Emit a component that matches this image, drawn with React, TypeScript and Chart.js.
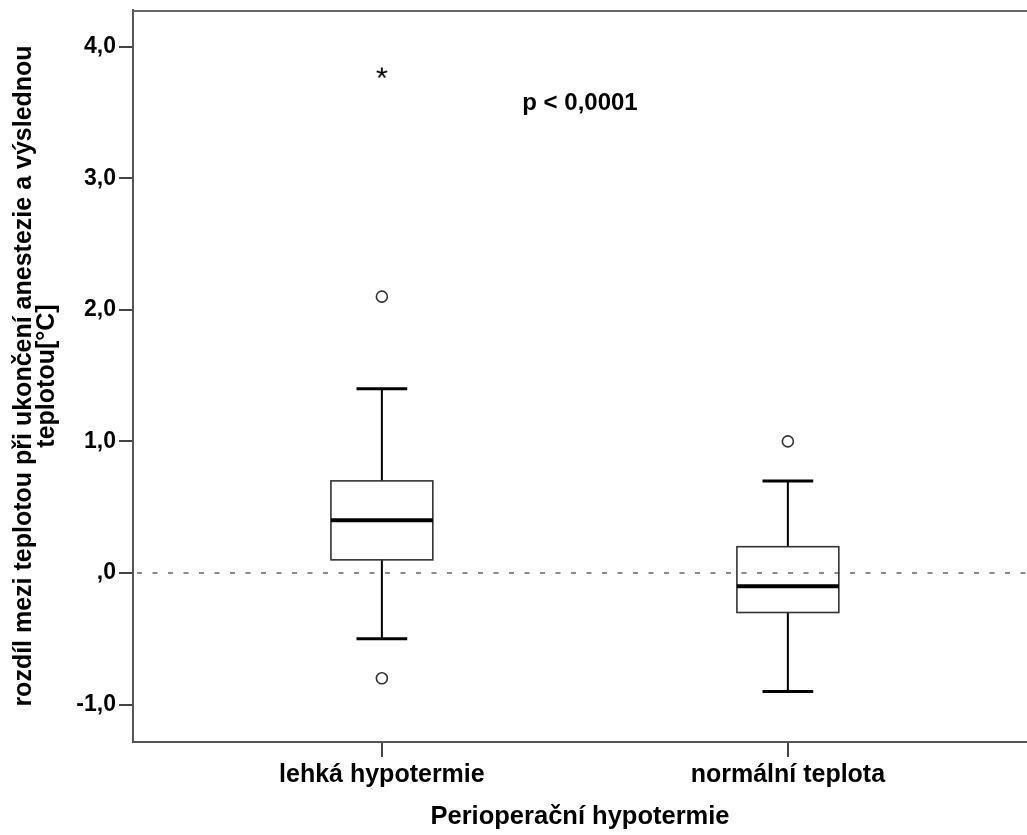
import React, { useEffect, useRef } from "react";
import { Chart, registerables } from "chart.js";

Chart.register(...registerables);

// ---- data ----
const categories = ["lehká hypotermie", "normální teplota"];
const whiskerLow = [-0.5, -0.9];
const quartile1 = [0.1, -0.3];
const medians = [0.4, -0.1];
const quartile3 = [0.7, 0.2];
const whiskerHigh = [1.4, 0.7];
const circleOutliers = [[2.1, -0.8], [1.0]];
const extremeOutliers = [[3.8], []];
const yTickValues = [-1, 0, 1, 2, 3, 4];
const yTickLabels = ["-1,0", ",0", "1,0", "2,0", "3,0", "4,0"];
const referenceValue = 0;
const pValueText = "p < 0,0001";
const xAxisTitle = "Perioperační hypotermie";
const yAxisTitle = [
  "rozdíl mezi teplotou při ukončení anestezie a výslednou",
  "teplotou[°C]",
];

const FONT = '"Liberation Sans", Arial, Helvetica, sans-serif';

export default function App() {
  const ref = useRef<HTMLCanvasElement | null>(null);

  useEffect(() => {
    const canvas = ref.current;
    if (!canvas) return;

    // asterisk point style for extreme values
    const star = document.createElement("canvas");
    star.width = 14;
    star.height = 14;
    const sctx = star.getContext("2d")!;
    sctx.strokeStyle = "#000";
    sctx.lineWidth = 1.8;
    for (let k = 0; k < 5; k++) {
      const a = -Math.PI / 2 + (k * 2 * Math.PI) / 5;
      sctx.beginPath();
      sctx.moveTo(7, 7);
      sctx.lineTo(7 + Math.cos(a) * 5.5, 7 + Math.sin(a) * 5.5);
      sctx.stroke();
    }

    const circleData: { x: number; y: number }[] = [];
    circleOutliers.forEach((arr, i) => arr.forEach((v) => circleData.push({ x: i + 1, y: v })));
    const starData: { x: number; y: number }[] = [];
    extremeOutliers.forEach((arr, i) => arr.forEach((v) => starData.push({ x: i + 1, y: v })));

    const boxPlugin = {
      id: "boxes",
      beforeDatasetsDraw(chart: any) {
        const { ctx, chartArea, scales } = chart;
        const xs = scales.x;
        const ys = scales.y;
        ctx.save();
        // top frame line
        ctx.strokeStyle = "#666";
        ctx.lineWidth = 2;
        ctx.beginPath();
        ctx.moveTo(chartArea.left, chartArea.top + 1);
        ctx.lineTo(chartArea.right, chartArea.top + 1);
        ctx.stroke();
        // reference dashed line
        const y0 = ys.getPixelForValue(referenceValue);
        ctx.strokeStyle = "#8a8a8a";
        ctx.lineWidth = 2;
        ctx.setLineDash([5, 10.5]);
        ctx.beginPath();
        ctx.moveTo(chartArea.left + 4, y0);
        ctx.lineTo(chartArea.right, y0);
        ctx.stroke();
        ctx.setLineDash([]);

        const boxHalf = 0.1255;
        const capHalf = 0.0625;
        categories.forEach((_, i) => {
          const xc = xs.getPixelForValue(i + 1);
          const xl = xs.getPixelForValue(i + 1 - boxHalf);
          const xr = xs.getPixelForValue(i + 1 + boxHalf);
          const cl = xs.getPixelForValue(i + 1 - capHalf);
          const cr = xs.getPixelForValue(i + 1 + capHalf);
          const yLo = ys.getPixelForValue(whiskerLow[i]);
          const yQ1 = ys.getPixelForValue(quartile1[i]);
          const yMd = ys.getPixelForValue(medians[i]);
          const yQ3 = ys.getPixelForValue(quartile3[i]);
          const yHi = ys.getPixelForValue(whiskerHigh[i]);
          // whiskers
          ctx.strokeStyle = "#000";
          ctx.lineWidth = 2;
          ctx.beginPath();
          ctx.moveTo(xc, yHi);
          ctx.lineTo(xc, yQ3);
          ctx.moveTo(xc, yQ1);
          ctx.lineTo(xc, yLo);
          ctx.stroke();
          ctx.lineWidth = 3;
          ctx.beginPath();
          ctx.moveTo(cl, yHi);
          ctx.lineTo(cr, yHi);
          ctx.moveTo(cl, yLo);
          ctx.lineTo(cr, yLo);
          ctx.stroke();
          // box
          ctx.strokeStyle = "#333";
          ctx.lineWidth = 1.6;
          ctx.strokeRect(xl, yQ3, xr - xl, yQ1 - yQ3);
          // median
          ctx.strokeStyle = "#000";
          ctx.lineWidth = 4;
          ctx.beginPath();
          ctx.moveTo(xl, yMd);
          ctx.lineTo(xr, yMd);
          ctx.stroke();
        });
        ctx.restore();
      },
      afterDatasetsDraw(chart: any) {
        const { ctx, scales } = chart;
        ctx.save();
        ctx.fillStyle = "#000";
        ctx.font = `bold 24px ${FONT}`;
        ctx.textAlign = "center";
        ctx.textBaseline = "middle";
        ctx.fillText(pValueText, scales.x.getPixelForValue(1.488), scales.y.getPixelForValue(3.57));
        ctx.restore();
      },
    };

    const chart = new Chart(canvas, {
      type: "scatter",
      data: {
        datasets: [
          {
            label: "outliers",
            data: circleData,
            pointStyle: "circle",
            pointRadius: 5.5,
            pointBorderWidth: 1.6,
            borderColor: "#333",
            backgroundColor: "#fff",
          },
          {
            label: "extremes",
            data: starData,
            pointStyle: star as any,
            pointRadius: 6,
          },
        ],
      },
      options: {
        responsive: false,
        animation: false,
        events: [],
        layout: { autoPadding: false, padding: { top: 10, right: 0, left: 0, bottom: 0 } },
        plugins: {
          legend: { display: false },
          tooltip: { enabled: false },
        },
        scales: {
          x: {
            type: "linear",
            min: 0.387,
            max: 2.589,
            afterBuildTicks: (scale: any) => {
              scale.ticks = categories.map((_, i) => ({ value: i + 1 }));
            },
            afterFit: (scale: any) => {
              scale.height = 93;
              scale.paddingLeft = 0;
              scale.paddingRight = 0;
            },
            ticks: {
              callback: (v: any) => categories[Math.round(Number(v)) - 1] ?? "",
              color: "#000",
              font: { family: FONT, size: 25, weight: "bold" },
              padding: 3,
              maxRotation: 0,
              autoSkip: false,
            },
            grid: {
              drawOnChartArea: false,
              drawTicks: true,
              tickLength: 15,
              color: "#444",
              lineWidth: 2,
            },
            border: { display: true, color: "#555", width: 2 },
            title: {
              display: true,
              text: xAxisTitle,
              color: "#000",
              font: { family: FONT, size: 25.5, weight: "bold" },
              padding: { top: 0, bottom: 3 },
            },
          },
          y: {
            type: "linear",
            min: -1.284,
            max: 4.278,
            afterBuildTicks: (scale: any) => {
              scale.ticks = yTickValues.map((v) => ({ value: v }));
            },
            afterFit: (scale: any) => {
              scale.width = 133;
              scale.paddingTop = 0;
              scale.paddingBottom = 0;
            },
            ticks: {
              callback: (v: any) => {
                const idx = yTickValues.indexOf(Math.round(Number(v)));
                return idx >= 0 ? yTickLabels[idx] : "";
              },
              color: "#000",
              font: { family: FONT, size: 23, weight: "bold" },
              padding: 3,
              autoSkip: false,
            },
            grid: {
              drawOnChartArea: false,
              drawTicks: true,
              tickLength: 14,
              color: "#444",
              lineWidth: 2,
            },
            border: { display: true, color: "#555", width: 2 },
            title: {
              display: true,
              text: yAxisTitle,
              color: "#000",
              font: { family: FONT, size: 25, weight: "bold", lineHeight: 0.94 },
              padding: { top: 12, bottom: 0 },
            },
          },
        },
      },
      plugins: [boxPlugin],
    });

    return () => chart.destroy();
  }, []);

  return (
    <div style={{ position: "absolute", left: 0, top: 0, width: 1027, height: 835, background: "#fff", overflow: "hidden" }}>
      <canvas ref={ref} width={1027} height={835} style={{ display: "block" }} />
    </div>
  );
}
